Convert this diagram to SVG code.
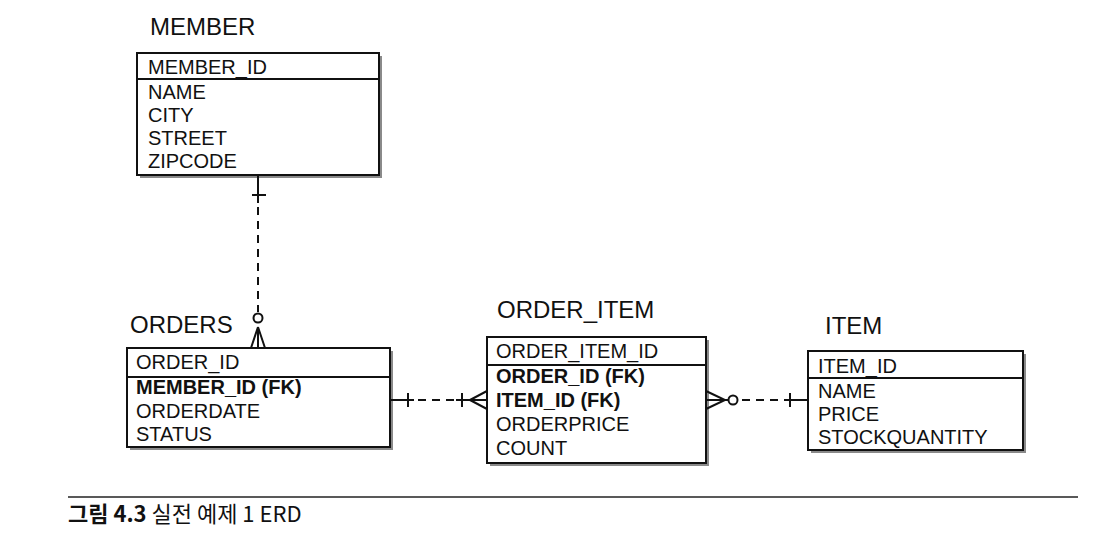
<svg xmlns="http://www.w3.org/2000/svg" width="1111" height="548" viewBox="0 0 1111 548">
<defs>
<style>
.title{font-family:"Liberation Sans",Arial,sans-serif;font-size:24px;fill:#111}
.t{font-family:"Liberation Sans",Arial,sans-serif;font-size:20px;fill:#111}
.b{font-weight:bold}
.box{fill:#fff;stroke:#111;stroke-width:2}
.sh{fill:#8a8a8a}
.div{stroke:#111;stroke-width:2}
.ln{stroke:#111;stroke-width:2;fill:none}
.dash{stroke:#111;stroke-width:2;fill:none;stroke-dasharray:8 6}
.cap{font-family:"Noto Sans CJK KR","Noto Sans",sans-serif;font-size:22px;fill:#111}
</style>
</defs>
<rect width="1111" height="548" fill="#fff"/>

<g id="member">
<text class="title" x="150" y="35">MEMBER</text>
<rect class="sh" x="140" y="56" width="242" height="122"/>
<rect class="box" x="137" y="53" width="242" height="122"/>
<line class="div" x1="137" y1="79" x2="379" y2="79"/>
<text class="t" x="148" y="74">MEMBER_ID</text>
<text class="t" x="148" y="99">NAME</text>
<text class="t" x="148" y="122">CITY</text>
<text class="t" x="148" y="145">STREET</text>
<text class="t" x="148" y="168">ZIPCODE</text>
</g>

<g id="orders">
<text class="title" x="130" y="333">ORDERS</text>
<rect class="sh" x="130" y="351" width="263" height="99"/>
<rect class="box" x="127" y="348" width="263" height="99"/>
<line class="div" x1="127" y1="377" x2="390" y2="377"/>
<text class="t" x="136" y="369">ORDER_ID</text>
<text class="t b" x="136" y="394">MEMBER_ID (FK)</text>
<text class="t" x="136" y="418">ORDERDATE</text>
<text class="t" x="136" y="441">STATUS</text>
</g>

<g id="order_item">
<text class="title" x="497" y="318">ORDER_ITEM</text>
<rect class="sh" x="490" y="340" width="219" height="126"/>
<rect class="box" x="487" y="337" width="219" height="126"/>
<line class="div" x1="487" y1="365" x2="706" y2="365"/>
<text class="t" x="496" y="358">ORDER_ITEM_ID</text>
<text class="t b" x="496" y="383">ORDER_ID (FK)</text>
<text class="t b" x="496" y="407">ITEM_ID (FK)</text>
<text class="t" x="496" y="431">ORDERPRICE</text>
<text class="t" x="496" y="455">COUNT</text>
</g>

<g id="item">
<text class="title" x="825" y="334">ITEM</text>
<rect class="sh" x="811" y="354" width="215" height="99"/>
<rect class="box" x="808" y="351" width="215" height="99"/>
<line class="div" x1="808" y1="378" x2="1023" y2="378"/>
<text class="t" x="818" y="373">ITEM_ID</text>
<text class="t" x="818" y="398">NAME</text>
<text class="t" x="818" y="421">PRICE</text>
<text class="t" x="818" y="444">STOCKQUANTITY</text>
</g>

<g id="connectors">
<!-- MEMBER - ORDERS -->
<line class="ln" x1="258" y1="176" x2="258" y2="203"/>
<line class="ln" x1="252" y1="195" x2="266" y2="195"/>
<line class="dash" x1="258" y1="207" x2="258" y2="312"/>
<circle class="ln" cx="258" cy="318" r="4.5"/>
<path class="ln" d="M258 327 L251 348 M258 327 L258 348 M258 327 L265 348"/>
<!-- ORDERS - ORDER_ITEM -->
<line class="ln" x1="391" y1="400" x2="414" y2="400"/>
<line class="ln" x1="408" y1="393" x2="408" y2="407"/>
<line class="dash" x1="418" y1="400" x2="458" y2="400"/>
<line class="ln" x1="456" y1="400" x2="487" y2="400"/>
<line class="ln" x1="462" y1="393" x2="462" y2="407"/>
<path class="ln" d="M470 400 L487 391 M470 400 L487 409"/>
<!-- ORDER_ITEM - ITEM -->
<path class="ln" d="M706 391 L725 400 L706 409 M706 400 L728 400"/>
<circle class="ln" cx="733" cy="400" r="4.5"/>
<line class="dash" x1="742" y1="400" x2="784" y2="400"/>
<line class="ln" x1="784" y1="400" x2="808" y2="400"/>
<line class="ln" x1="790" y1="393" x2="790" y2="407"/>
</g>

<g id="caption">
<line x1="68" y1="497" x2="1078" y2="497" stroke="#222" stroke-width="1.5"/>
<text class="cap" x="68" y="522"><tspan font-weight="bold">그림 4.3</tspan> 실전 예제 1 ERD</text>
</g>
</svg>
